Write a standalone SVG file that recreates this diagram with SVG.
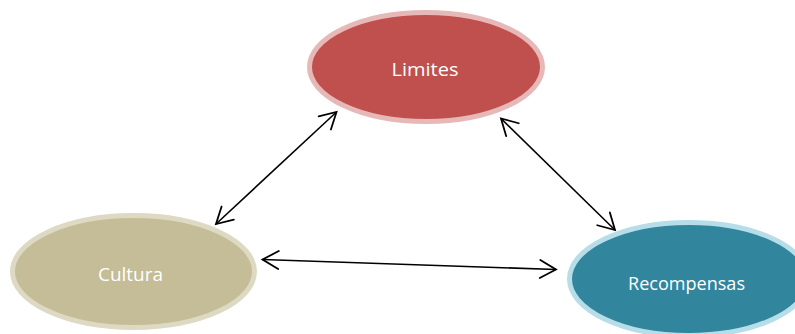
<svg xmlns="http://www.w3.org/2000/svg" width="795" height="334" viewBox="0 0 795 334">
  <defs>
    <style>
      .node { stroke-width: 5; }
      .label { font-family: "Open Sans", "Liberation Sans", sans-serif; font-size: 19px; fill: #ffffff; text-anchor: middle; }
      .link { stroke: #000000; stroke-width: 1.6; fill: none; marker-start: url(#head); marker-end: url(#head); }
    </style>
    <marker id="head" viewBox="-20 -12 24 24" markerWidth="24" markerHeight="24" markerUnits="userSpaceOnUse" refX="0" refY="0" orient="auto-start-reverse">
      <path d="M-16,-9 L0,0 L-16,9" fill="none" stroke="#000000" stroke-width="1.8" stroke-linecap="round" stroke-linejoin="miter"/>
    </marker>
  </defs>

  <g id="connectors">
    <line class="link" x1="216" y1="224" x2="336.5" y2="112"/>
    <line class="link" x1="501" y1="118.5" x2="615" y2="230"/>
    <line class="link" x1="262.5" y1="259.5" x2="556" y2="269.5"/>
  </g>

  <g id="limites">
    <ellipse class="node" cx="426" cy="67" rx="116.5" ry="54.5" fill="#c0504d" stroke="#e6b9b8"/>
    <text class="label" x="425" y="76" textLength="67" lengthAdjust="spacingAndGlyphs">Limites</text>
  </g>

  <g id="cultura">
    <ellipse class="node" cx="133.5" cy="271.5" rx="121" ry="56" fill="#c4bd97" stroke="#ddd9c3"/>
    <text class="label" x="130.5" y="281" textLength="65" lengthAdjust="spacingAndGlyphs">Cultura</text>
  </g>

  <g id="recompensas">
    <ellipse class="node" cx="689" cy="279" rx="119.5" ry="56.5" fill="#31859c" stroke="#b7dee8"/>
    <text class="label" x="686.5" y="290" textLength="117" lengthAdjust="spacingAndGlyphs">Recompensas</text>
  </g>
</svg>
